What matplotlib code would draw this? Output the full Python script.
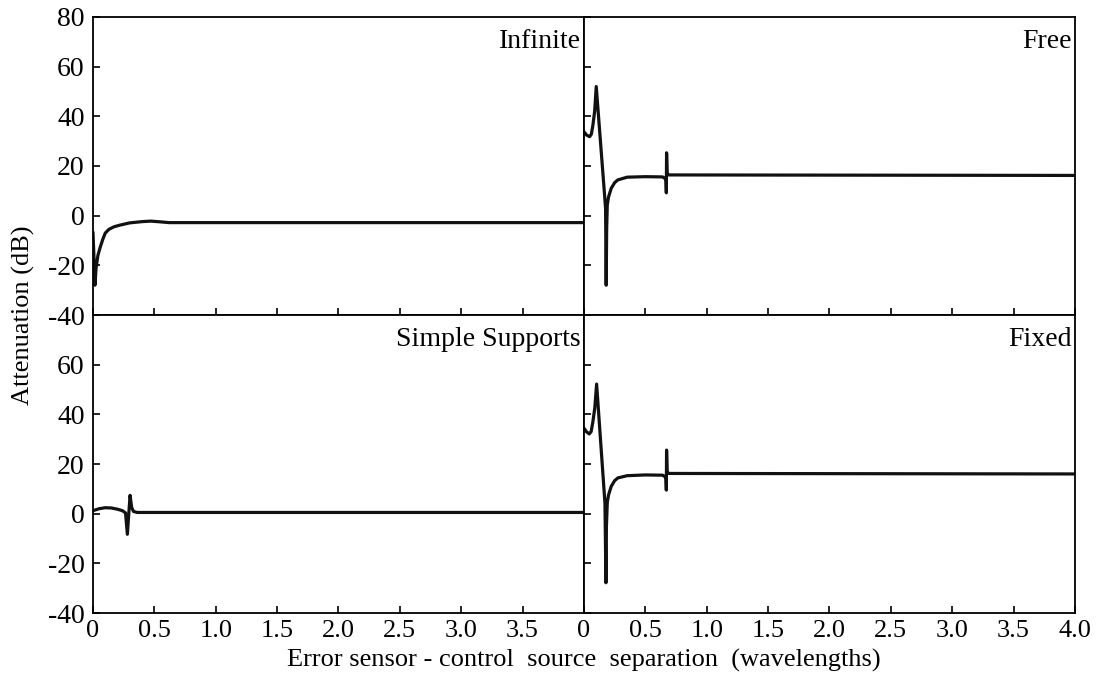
import numpy as np
import matplotlib.pyplot as plt

plt.rcParams['font.family'] = ['Liberation Serif', 'DejaVu Serif']

# separation (wavelengths) and attenuation (dB) for each boundary condition
infinite_x = [0, 0.008, 0.016, 0.025, 0.04, 0.057, 0.08, 0.1, 0.13, 0.17, 0.22,
              0.3, 0.4, 0.47, 0.55, 0.62, 4.0]
infinite_db = [-7, -17, -28, -21, -16, -13, -9.5, -7, -5.5, -4.5, -3.8,
               -2.9, -2.4, -2.2, -2.5, -2.8, -2.8]

free_x = [0, 0.02, 0.046, 0.06, 0.073, 0.087, 0.1, 0.176, 0.181, 0.185, 0.19,
          0.2, 0.222, 0.25, 0.276, 0.352, 0.5, 0.64, 0.66, 0.668, 0.671,
          0.673, 0.678, 0.69, 4.0]
free_db = [33.8, 32.5, 31.8, 32.8, 36.5, 42, 52, 3, -28, -5, 4.3,
           7.5, 11, 13.3, 14.4, 15.5, 15.7, 15.6, 15.0, 14.2, 9.2,
           25.3, 17.1, 16.4, 16.2]

simple_x = [0, 0.05, 0.1, 0.15, 0.2, 0.24, 0.265, 0.28, 0.302, 0.315, 0.33,
            0.36, 4.0]
simple_db = [1.2, 2.0, 2.4, 2.3, 1.8, 1.2, 0.3, -8.3, 7.4, 2.5, 0.9,
             0.5, 0.5]

fixed_x = [0, 0.02, 0.043, 0.058, 0.072, 0.088, 0.103, 0.171, 0.179, 0.183,
           0.19, 0.2, 0.222, 0.25, 0.276, 0.352, 0.5, 0.64, 0.66, 0.668,
           0.671, 0.673, 0.678, 0.69, 4.0]
fixed_db = [34.4, 33.0, 32.1, 33.0, 36.8, 42.5, 52.2, 4.2, -27.8, -5, 4.5,
            7.5, 11, 13.3, 14.4, 15.3, 15.6, 15.5, 14.9, 14.1, 9.5,
            25.6, 16.9, 16.2, 16.0]

panel_names = ['Infinite', 'Free', 'Simple Supports', 'Fixed']

x_ticks = np.arange(0, 4.01, 0.5)
x_labels = ['0', '0.5', '1.0', '1.5', '2.0', '2.5', '3.0', '3.5', '4.0']
y_ticks = np.arange(-40, 81, 20)
y_labels = ['-40', '-20', '0', '20', '40', '60', '80']

fig, axes = plt.subplots(2, 2, figsize=(10.98, 6.93), dpi=100)
fig.subplots_adjust(left=0.0847, right=0.979, top=0.9755, bottom=0.1154,
                    hspace=0, wspace=0)

series = [(infinite_x, infinite_db), (free_x, free_db),
          (simple_x, simple_db), (fixed_x, fixed_db)]

for ax, (xs, ys), name in zip(axes.flat, series, panel_names):
    ax.plot(xs, ys, color='#111111', lw=2.3, solid_joinstyle='round')
    ax.set_xlim(0, 4.0)
    ax.set_ylim(-40, 80)
    ax.set_xticks(x_ticks)
    ax.set_yticks(y_ticks)
    ax.tick_params(direction='in', length=5, width=1.2, top=False, right=False)
    ax.tick_params(axis='y', labelsize=20, pad=6)
    ax.tick_params(axis='x', labelsize=19, pad=5)
    for s in ax.spines.values():
        s.set_linewidth(1.3)
    ax.text(0.993, 0.96, name, transform=ax.transAxes, ha='right', va='top',
            fontsize=20)

# only outer panels get tick labels
axes[0, 0].tick_params(labelbottom=False)
axes[0, 1].tick_params(labelbottom=False, labelleft=False)
axes[1, 1].tick_params(labelleft=False)
axes[0, 0].set_yticklabels(y_labels)
axes[1, 0].set_yticklabels(y_labels[:-1] + [''])
axes[1, 0].set_xticklabels(x_labels[:-1] + [''])
axes[1, 1].set_xticklabels(x_labels)

fig.text(0.021, 0.545, 'Attenuation (dB)', rotation=90, ha='center',
         va='center', fontsize=19)
fig.text(0.532, 0.047, 'Error sensor - control  source  separation  (wavelengths)',
         ha='center', va='center', fontsize=19)

fig.savefig('out.png', dpi=100)
